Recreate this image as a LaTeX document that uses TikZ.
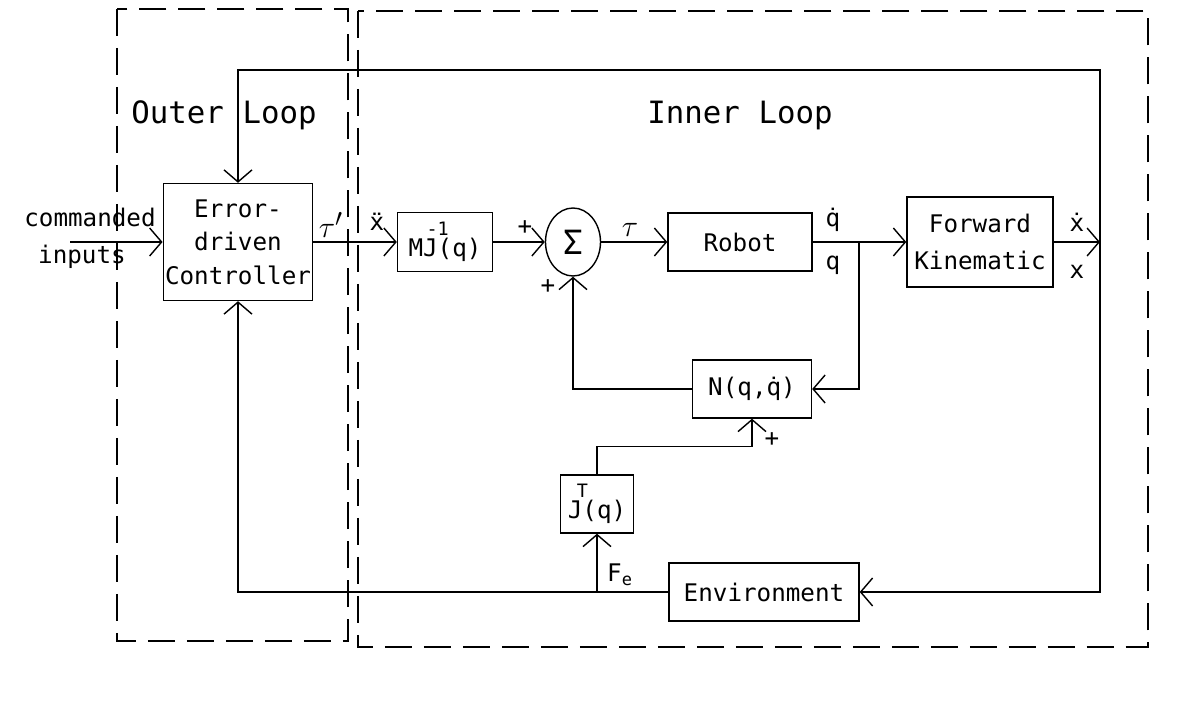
\documentclass[tikz,border=0pt]{standalone}
\usepackage{fontspec}
\setmainfont{DejaVu Sans Mono}
\usetikzlibrary{arrows.meta,positioning,shapes.geometric}

\newcommand{\supfont}{\fontsize{10.5}{10.5}\selectfont}

\begin{document}
\begin{tikzpicture}[x=0.02cm,y=-0.02cm,
  font=\fontsize{13.8}{19}\selectfont,
  block/.style={draw,line width=0.8pt,align=center,inner sep=1pt},
  dims/.style 2 args={minimum width=#1*0.02cm,minimum height=#2*0.02cm},
  summer/.style={ellipse,draw,line width=0.8pt,inner sep=0pt,
    minimum width=55*0.02cm,minimum height=68*0.02cm},
  signal/.style={line width=0.8pt},
  arrow/.style={signal,-{Straight Barb[length=0.24cm,width=0.56cm]}},
  loopbox/.style={draw,line width=0.8pt,dash pattern=on 0.54cm off 0.24cm},
  lbl/.style={inner sep=0pt},
  greek/.style={inner sep=0pt,font=\fontsize{19}{19}\selectfont},
  looplbl/.style={inner sep=0pt,font=\fontsize{17.5}{20}\selectfont}
]
\useasboundingbox (0,0) rectangle (1181,719);

% outer and inner loop frames
\draw[loopbox] (117,9) rectangle (348,641);
\draw[loopbox] (358,11) rectangle (1148,647);
\node[looplbl] (outer) at (224,115) {Outer Loop};
\node[looplbl] (inner) at (740,115) {Inner Loop};

% blocks
\node[block,dims={143}{117}] (ctrl) at (238,242) {Error-\\driven\\Controller};
\node[block,dims={95}{59}] (mj) at (445,242) {MJ\makebox[0pt][c]{\raisebox{0.85em}{\supfont -1}}(q)};
\node[summer] (sum) at (573,242) {\fontsize{19}{19}\selectfont Σ};
\node[block,dims={144}{58}] (robot) at (740,242) {Robot};
\node[block,dims={146}{90},font=\fontsize{13.8}{21}\selectfont] (fk) at (980,242) {Forward\\Kinematic};
\node[block,dims={119}{58}] (nq) at (752,389) {N(q,\.{q})};
\node[block,dims={73}{58}] (jt) at (597,504) {J\makebox[0pt][c]{\raisebox{0.85em}{\supfont T}}(q)};
\node[block,dims={190}{58}] (env) at (764,592) {Environment};

\coordinate (in) at (70,242);
\coordinate (out) at (1100,242);
\coordinate (topright) at (1100,70);
\coordinate (botright) at (1100,592);
\coordinate (branch) at (859,242);
\coordinate (fe) at (597,592);

% forward path
\draw[arrow] (in) -- (ctrl.west);
\draw[arrow] (ctrl.east) -- (mj.west);
\draw[arrow] (mj.east) -- (sum.west);
\draw[arrow] (sum.east) -- (robot.west);
\draw[arrow] (robot.east) -- (fk.west);
\draw[arrow] (fk.east) -- (out);

% feedback paths
\draw[arrow] (branch) |- (nq.east);
\draw[arrow] (nq.west) -| (sum.south);
\draw[arrow] (jt.north) -- ++(0,-28) -| (nq.south);
\draw[arrow] (out) -- (topright) -| (ctrl.north);
\draw[arrow] (out) -- (botright) -- (env.east);
\draw[arrow] (env.west) -| (ctrl.south);
\draw[arrow] (fe) -- (fe |- jt.south);

% signal labels
\node[lbl] (cmd) at (90,217) {commanded};
\node[lbl] (inp) at (82,257) {inputs};
\node[greek] (taup) at (331,225) {$\tau'$};
\node[lbl] (xdd) at (377,222) {\"{x}};
\node[lbl] (plusa) at (525,228) {+};
\node[lbl] (plusb) at (548,287) {+};
\node[greek] (tau) at (630,230) {$\tau$};
\node[lbl] (qd) at (833,220) {\.{q}};
\node[lbl] (q) at (833,265) {q};
\node[lbl] (xd) at (1077,222) {\.{x}};
\node[lbl] (x) at (1077,272) {x};
\node[lbl] (plusc) at (772,440) {+};
\node[lbl] (force) at (620,575) {F\textsubscript{e}};
\end{tikzpicture}
\end{document}
